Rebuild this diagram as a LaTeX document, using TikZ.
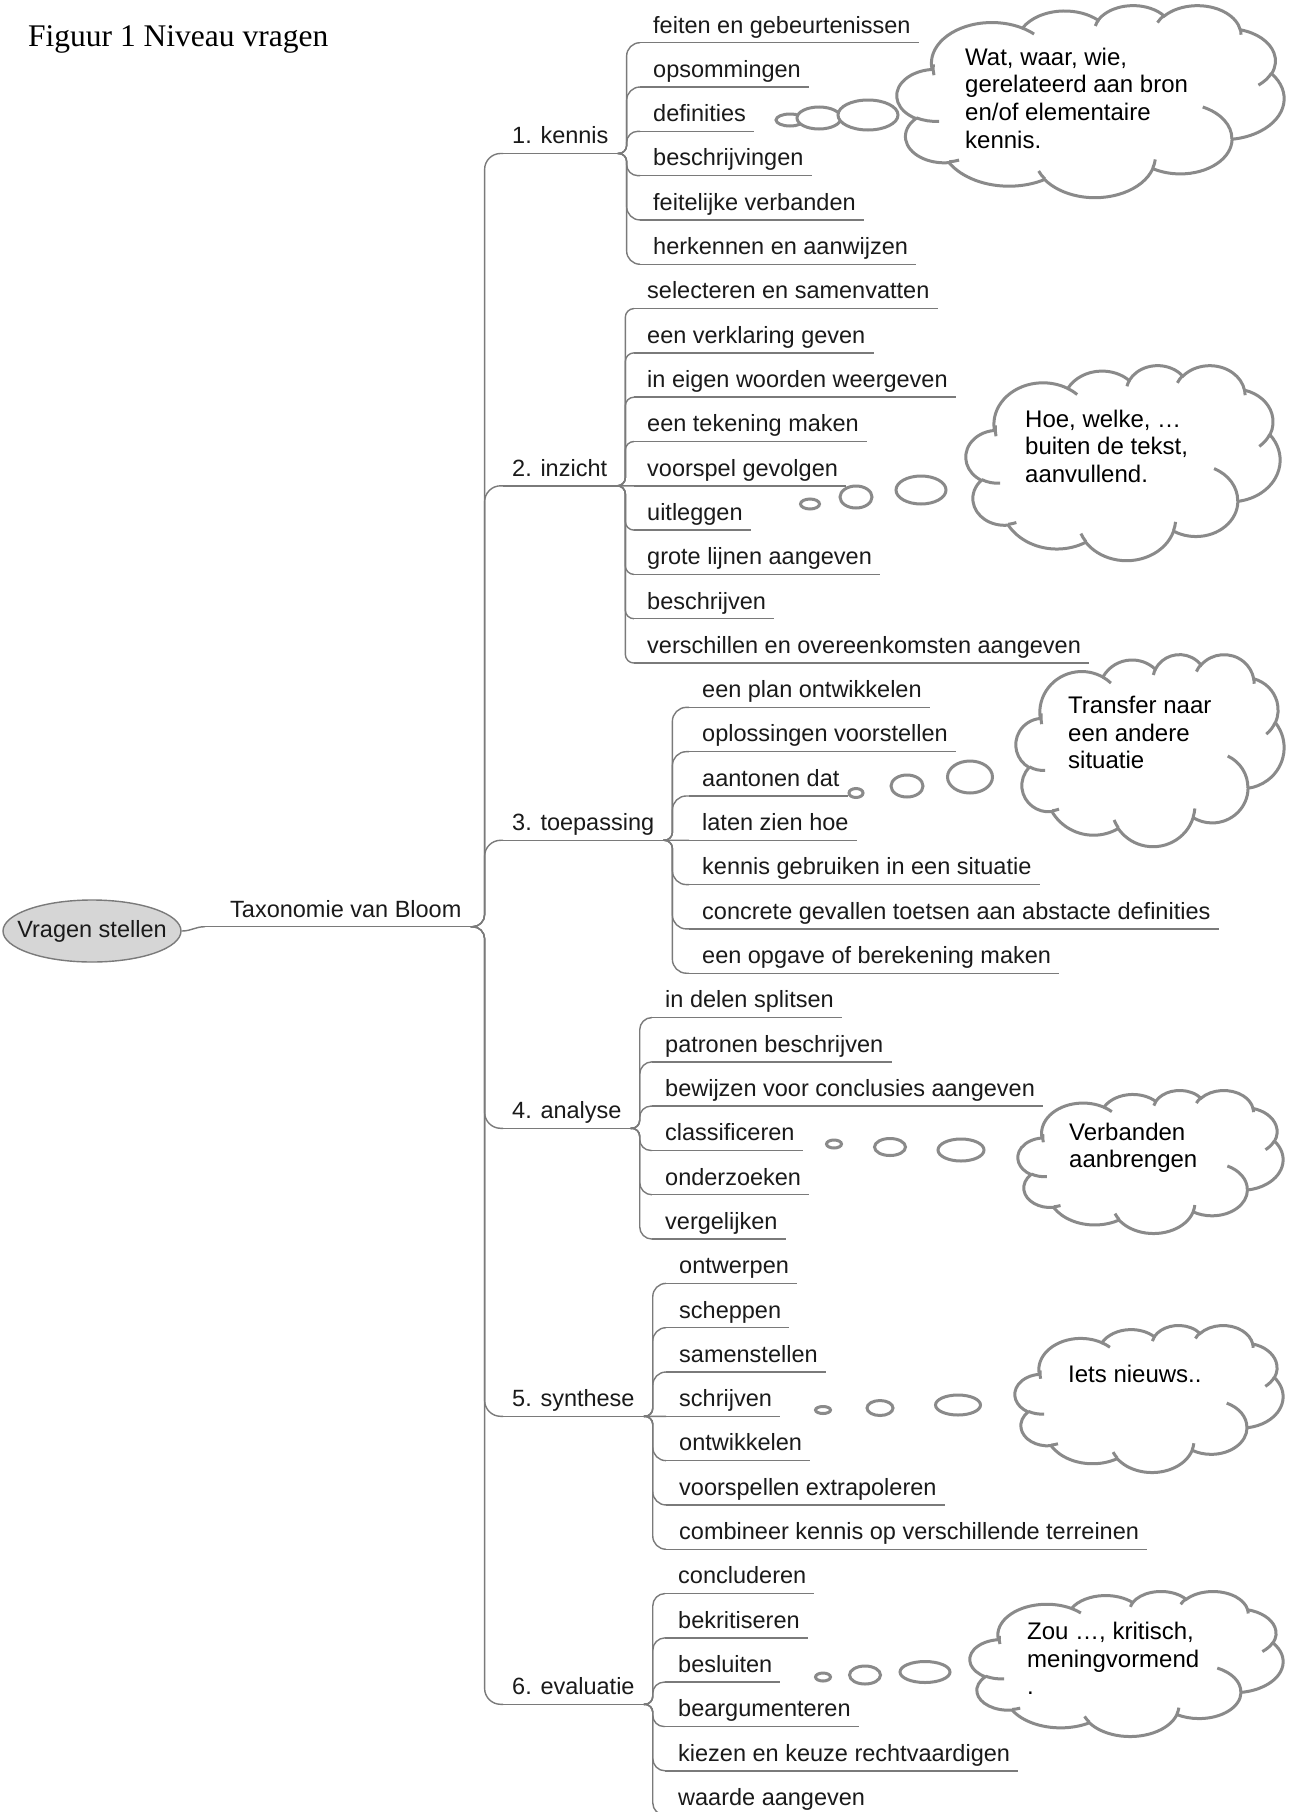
\documentclass[tikz,border=0pt]{standalone}
\usepackage{fontspec}
\setmainfont{Liberation Serif}
\newfontfamily\mmfont{Liberation Sans}
\usetikzlibrary{calc,shapes.geometric}
\definecolor{linegray}{HTML}{7A7A7A}
\definecolor{cloudgray}{HTML}{8A8A8A}
\definecolor{nodefill}{HTML}{D6D6D6}
\definecolor{txt}{HTML}{1A1A1A}

% Office-style elliptic arc: wR hR startAngle sweepAngle (visual angles, degrees)
\newcommand\ooarc[4]{%
  \pgfextra{%
    \pgfmathparse{atan2((#1)*sin(#3),(#2)*cos(#3))}\xdef\ooTA{\pgfmathresult}%
    \pgfmathparse{atan2((#1)*sin((#3)+(#4)),(#2)*cos((#3)+(#4)))}\xdef\ooTB{\pgfmathresult}%
    \pgfmathparse{\ooTB-360*round((\ooTB-\ooTA-(#4))/360)}\xdef\ooTB{\pgfmathresult}%
  }%
  arc[x radius=#1, y radius=#2, start angle=\ooTA, end angle=\ooTB]%
}

% cloud shape in box x0 y0 x1 y1
\newcommand\oocloud[4]{%
  \pgfmathsetmacro\ooSX{(#3-#1)/43.2}%
  \pgfmathsetmacro\ooSY{(#4-#2)/43.2}%
  \begin{scope}[shift={(#1,#2)}, x=\ooSX pt, y=-\ooSY pt]
    \filldraw[cloudline, fill=white] (3.9,14.37)
      \ooarc{6.753}{9.19}{-190.4875}{123.7805}
      \ooarc{5.333}{7.267}{-144.1024}{89.9452}
      \ooarc{4.365}{5.945}{-145.8079}{99.7230}
      \ooarc{4.857}{6.595}{-130.9861}{117.2417}
      \ooarc{5.333}{7.273}{-78.7089}{109.0269}
      \ooarc{6.775}{9.22}{-46.2673}{130.2690}
      \ooarc{5.785}{7.867}{0.6250}{114.0333}
      \ooarc{6.752}{9.215}{22.4516}{115.1726}
      \ooarc{7.72}{10.543}{66.2426}{75.7110}
      \ooarc{4.36}{5.918}{-274.9421}{146.7356}
      \ooarc{4.345}{5.945}{-246.8285}{152.5189}
      -- cycle;
    \draw[cloudline]
      (4.693,26.177) \ooarc{4.345}{5.945}{86.7420}{26.4295}
      (6.928,34.899) \ooarc{4.36}{5.918}{73.6105}{11.4475}
      (16.478,39.09) \ooarc{6.752}{9.215}{137.6242}{14.0811}
      (28.827,34.751) \ooarc{6.752}{9.215}{6.4533}{15.9984}
      (34.129,22.954) \ooarc{5.785}{7.867}{-70.2924}{70.9174}
      (41.798,15.354) \ooarc{5.333}{7.273}{30.3180}{27.7515}
      (38.324,5.426) \ooarc{4.857}{6.595}{-13.7443}{14.8589}
      (29.078,3.952) \ooarc{4.857}{6.595}{-149.1815}{18.1954}
      (22.141,4.72) \ooarc{4.365}{5.945}{-163.4943}{17.6864}
      (14.0,5.192) \ooarc{6.753}{9.19}{-66.7070}{12.3194}
      (4.127,15.789) \ooarc{6.753}{9.19}{166.6620}{20.6156};
  \end{scope}%
}

% connector: parent, child, parent ext, child ext, vertical offset, parent radius, child radius
\newcommand\conn[7]{%
  \draw[connline] let \p1=($(#1.south east)+(#3,0)$), \p2=($(#2.south west)+(-#4,0)$),
    \n1={max(-#6,min(#6,(\y2-\y1)/2))}, \n2={abs(\n1)},
    \n3={min(#7,abs(\y2-\y1)/2,\x2-\x1-#5)}, \n4={max(-(\n3),min(\n3,\y2-\y1))} in
    (\p1) -- ({\x1+#5-(\n2)},\y1)
    .. controls ({\x1+#5-0.448*(\n2)},\y1) and ({\x1+#5},{\y1+0.448*(\n1)}) .. ({\x1+#5},{\y1+(\n1)})
    -- ({\x1+#5},{\y2-(\n4)})
    .. controls ({\x1+#5},{\y2-0.448*(\n4)}) and ({\x1+#5+0.448*(\n3)},\y2) .. ({\x1+#5+(\n3)},\y2)
    -- (\p2);%
}

\begin{document}
\begin{tikzpicture}[x=1pt,y=-1pt,
  mm/.style={font=\mmfont\fontsize{23.5}{27}\selectfont, text=txt, inner xsep=0pt, inner ysep=0pt, text depth=9.5pt, anchor=base west},
  uline/.style={draw=linegray, line width=1.4pt},
  connline/.style={draw=linegray, line width=1.4pt},
  cloudline/.style={draw=cloudgray, line width=3pt},
  bubble/.style={draw=cloudgray, line width=3pt, fill=white},
  ctext/.style={font=\mmfont\fontsize{24}{27.6}\selectfont, align=left, anchor=north west, inner sep=0pt, text=black},
]
\fill[white] (0,0) rectangle (1289,1812);
\useasboundingbox (0,0) rectangle (1289,1812);

% title
\node[font=\fontsize{31.5}{36}\selectfont, anchor=base west, inner sep=0pt] (title) at (28,46) {Figuur 1 Niveau vragen};

% central node and root
\node[ellipse, draw=linegray, line width=1.4pt, fill=nodefill, minimum width=178pt, minimum height=62pt, inner sep=0pt,
      font=\mmfont\fontsize{23.5}{27}\selectfont, text=txt] (vs) at (92,931) {\makebox[0pt][c]{Vragen stellen}};
\node[mm] (root) at (230,917) {Taxonomie van Bloom};
\coordinate (rootstart) at ($(root.south west)+(-25,0)$);
\draw[uline] (rootstart) -- ($(root.south east)+(9,0)$);
\draw[connline] (vs.east) .. controls +(10,0) and +(-10,0) .. (rootstart);

% level 1
\node[mm] (k1) at (512,143.78) {1. kennis};
\node[mm] (k2) at (512,476.1) {2. inzicht};
\node[mm] (k3) at (512,830.58) {3. toepassing};
\node[mm] (k4) at (512,1118.6) {4. analyse};
\node[mm] (k5) at (512,1406.6) {5. synthese};
\node[mm] (k6) at (512,1694.6) {6. evaluatie};
\foreach \lv in {k1,k2,k3,k4,k5,k6} {
  \draw[uline] ($(\lv.south west)+(-9,0)$) -- ($(\lv.south east)+(9,0)$);
  \conn{root}{\lv}{9}{9}{14pt}{12pt}{16pt}
}

% leaves
\foreach \t [count=\k from 0] in {feiten en gebeurtenissen, opsommingen, definities, beschrijvingen, feitelijke verbanden, herkennen en aanwijzen}
  \node[mm] (g1-\k) at (653,{33+44.31*(0+\k)}) {\t};
\foreach \t [count=\k from 0] in {selecteren en samenvatten, een verklaring geven, in eigen woorden weergeven, een tekening maken, voorspel gevolgen, uitleggen, grote lijnen aangeven, beschrijven, verschillen en overeenkomsten aangeven}
  \node[mm] (g2-\k) at (647,{33+44.31*(6+\k)}) {\t};
\foreach \t [count=\k from 0] in {een plan ontwikkelen, oplossingen voorstellen, aantonen dat, laten zien hoe, kennis gebruiken in een situatie, concrete gevallen toetsen aan abstacte definities, een opgave of berekening maken}
  \node[mm] (g3-\k) at (702,{33+44.31*(15+\k)}) {\t};
\foreach \t [count=\k from 0] in {in delen splitsen, patronen beschrijven, bewijzen voor conclusies aangeven, classificeren, onderzoeken, vergelijken}
  \node[mm] (g4-\k) at (665,{33+44.31*(22+\k)}) {\t};
\foreach \t [count=\k from 0] in {ontwerpen, scheppen, samenstellen, schrijven, ontwikkelen, voorspellen extrapoleren, combineer kennis op verschillende terreinen}
  \node[mm] (g5-\k) at (679,{33+44.31*(28+\k)}) {\t};
\foreach \t [count=\k from 0] in {concluderen, bekritiseren, besluiten, beargumenteren, kiezen en keuze rechtvaardigen, waarde aangeven}
  \node[mm] (g6-\k) at (678,{33+44.31*(35+\k)}) {\t};

\foreach \gname/\pname/\last in {g1/k1/5, g2/k2/8, g3/k3/6, g4/k4/5, g5/k5/6, g6/k6/5} {
  \foreach \k in {0,...,\last} {
    \draw[uline] ($(\gname-\k.south west)+(-13,0)$) -- ($(\gname-\k.south east)+(8,0)$);
    \conn{\pname}{\gname-\k}{9}{13}{9pt}{8pt}{14pt}
  }
}

% clouds
\oocloud{897}{5}{1284}{197}
\oocloud{966}{365}{1280}{560}
\oocloud{1016}{654}{1284}{846}
\oocloud{1018}{1090}{1283}{1233}
\oocloud{1015}{1325}{1283}{1472}
\oocloud{970}{1591}{1283}{1736}

\node[ctext] (c1) at (965,45.7) {\strut Wat, waar, wie,\\gerelateerd aan bron\\en/of elementaire\\kennis.};
\node[ctext] (c2) at (1025,407.7) {\strut Hoe, welke, …\\buiten de tekst,\\aanvullend.};
\node[ctext] (c3) at (1068,694) {\strut Transfer naar\\een andere\\situatie};
\node[ctext] (c4) at (1069,1120.5) {\strut Verbanden\\aanbrengen};
\node[ctext] (c5) at (1068,1362.7) {\strut Iets nieuws..};
\node[ctext] (c6) at (1027,1620) {\strut Zou …, kritisch,\\meningvormend\\.};

% thought bubbles
\draw[bubble] (790,120) ellipse [x radius=14, y radius=6];
\draw[bubble] (819,118) ellipse [x radius=22, y radius=11];
\draw[bubble] (868,115) ellipse [x radius=30, y radius=15];

\draw[bubble] (810,504) ellipse [x radius=9.5, y radius=5];
\draw[bubble] (856,497) ellipse [x radius=16, y radius=11];
\draw[bubble] (921,490) ellipse [x radius=25, y radius=14];

\draw[bubble] (856,793) ellipse [x radius=7, y radius=4.5];
\draw[bubble] (907,786) ellipse [x radius=16, y radius=11];
\draw[bubble] (970,777) ellipse [x radius=22.5, y radius=16];

\draw[bubble] (834,1144) ellipse [x radius=7.5, y radius=4];
\draw[bubble] (890,1147) ellipse [x radius=15.5, y radius=8.5];
\draw[bubble] (961,1150) ellipse [x radius=23, y radius=11];

\draw[bubble] (823,1410) ellipse [x radius=7.5, y radius=3.5];
\draw[bubble] (880,1408) ellipse [x radius=13, y radius=7.5];
\draw[bubble] (958,1405) ellipse [x radius=22.5, y radius=10];

\draw[bubble] (823,1677) ellipse [x radius=7.5, y radius=4];
\draw[bubble] (865,1675) ellipse [x radius=15.5, y radius=9];
\draw[bubble] (925,1672) ellipse [x radius=25, y radius=10.5];
\end{tikzpicture}
\end{document}
